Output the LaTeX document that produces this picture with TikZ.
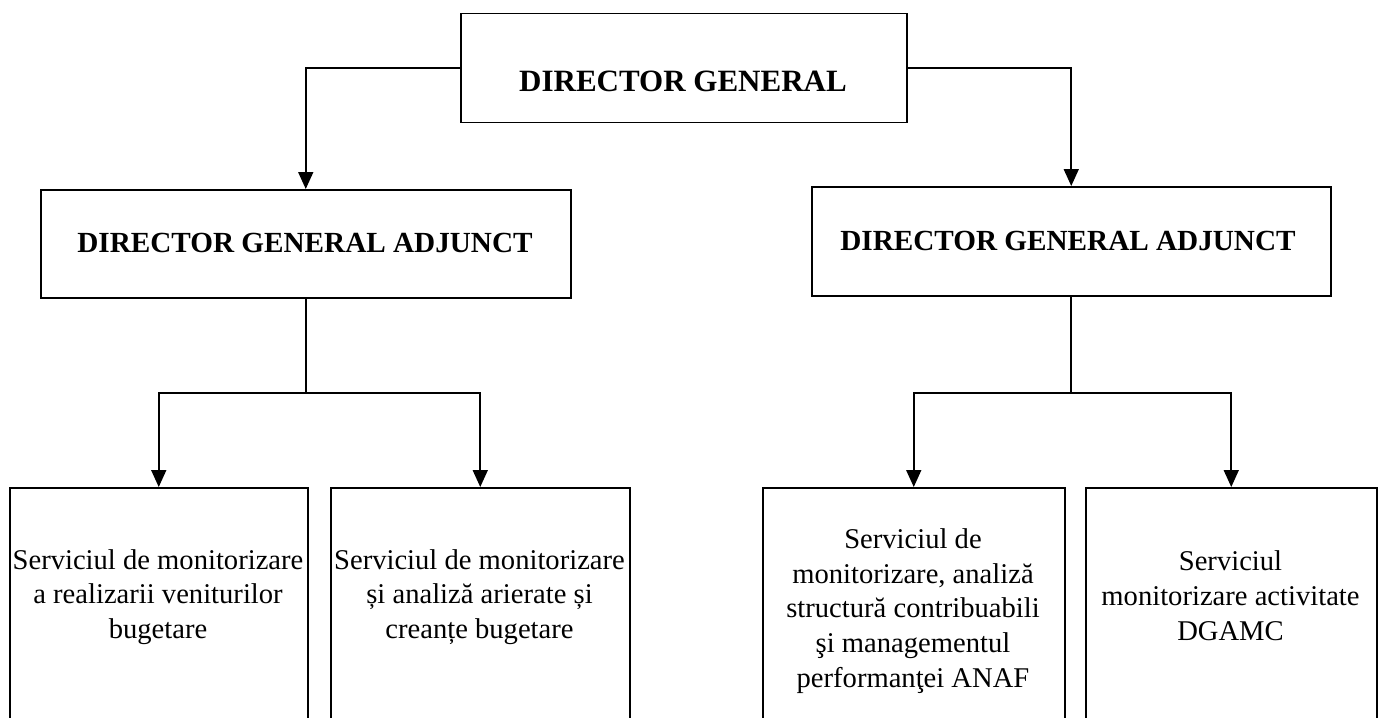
\documentclass[tikz,border=0pt]{standalone}
\usepackage{fontspec}
\setmainfont{Liberation Serif}
\usetikzlibrary{arrows.meta}
\tikzset{
  box/.style={draw=black, line width=0.75pt, rectangle, inner sep=0pt, anchor=north west},
  head/.style={font=\bfseries\fontsize{14.6pt}{18pt}\selectfont, inner sep=0pt, align=center},
  body/.style={font=\fontsize{14.3pt}{17.4pt}\selectfont, inner sep=0pt, align=center},
  link/.style={draw=black, line width=0.85pt},
  arr/.style={link, -{Triangle[length=8.5pt,width=7.5pt]}}
}
\begin{document}
\begin{tikzpicture}[x=0.5pt,y=-0.5pt]
\useasboundingbox[fill=white] (0,0) rectangle (1380,717);
\clip (0,0) rectangle (1380,717);
% top box
\node[box, minimum width=223pt, minimum height=54.5pt] (dg) at (460,13) {};
\node[head, font=\bfseries\fontsize{15.5pt}{18pt}\selectfont] (dgt) at (683,81) {DIRECTOR GENERAL};
% deputy boxes
\node[box, minimum width=265pt, minimum height=54pt] (dga1) at (40,189) {};
\node[head] (dga1t) at (305,243) {DIRECTOR GENERAL ADJUNCT};
\node[box, minimum width=259.5pt, minimum height=54.5pt] (dga2) at (811,186) {};
\node[head] (dga2t) at (1068,241) {DIRECTOR GENERAL ADJUNCT};
% bottom boxes
\node[box, minimum width=149pt, minimum height=130pt] (b1) at (9,487) {};
\node[body] (b1t) at (158,597) {Serviciul de monitorizare\\a realizarii veniturilor\\bugetare};
\node[box, minimum width=149.5pt, minimum height=130pt] (b2) at (330,487) {};
\node[body] (b2t) at (479.5,597) {Serviciul de monitorizare\\și analiză arierate și\\creanțe bugetare};
\node[box, minimum width=151pt, minimum height=130pt] (b3) at (762,487) {};
\node[body] (b3t) at (913,611) {Serviciul de\\monitorizare, analiză\\structură contribuabili\\şi managementul\\performanţei ANAF};
\node[box, minimum width=145.5pt, minimum height=130pt] (b4) at (1085,487) {};
\node[body] (b4t) at (1230.5,596) {Serviciul\\monitorizare activitate\\DGAMC};
% junctions
\coordinate (j1) at (dga1.south |- 0,393);
\coordinate (j2) at (dga2.south |- 0,393);
% connectors
\draw[arr] (dg.west) -| (dga1.north);
\draw[arr] (dg.east) -| (dga2.north);
\draw[link] (dga1.south) -- (j1);
\draw[arr] (j1) -| (b1.north);
\draw[arr] (j1) -| (b2.north);
\draw[link] (dga2.south) -- (j2);
\draw[arr] (j2) -| (b3.north);
\draw[arr] (j2) -| (b4.north);
\end{tikzpicture}
\end{document}
